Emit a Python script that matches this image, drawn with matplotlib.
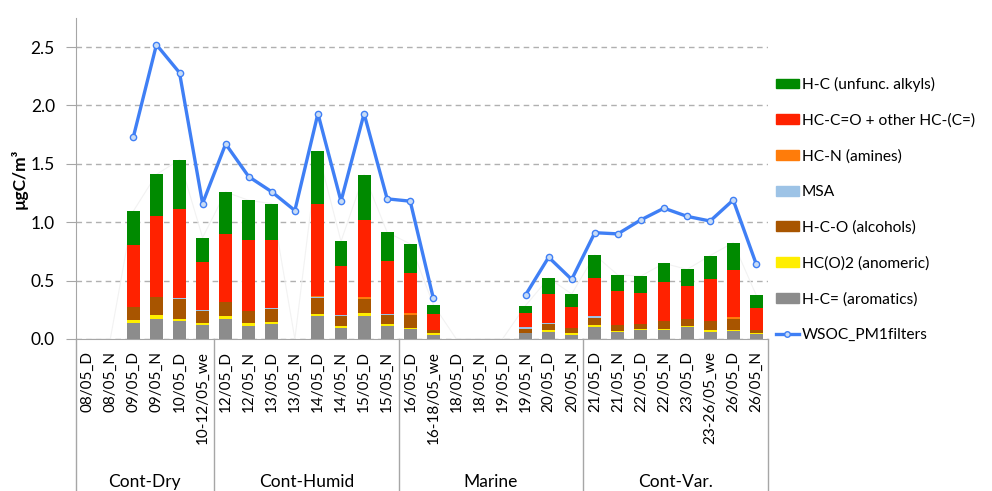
#! /usr/bin/env python3
# -*- coding: utf-8 -*-
"""
Stacked functional groups vs WSOC on PM1 filters.
"""

import matplotlib.pyplot as plt
from matplotlib.patches import Patch
from matplotlib.lines import Line2D
from matplotlib.transforms import blended_transform_factory
import numpy as np

plt.rcParams["font.family"] = ["Lato", "DejaVu Sans"]

samples = [
    "08/05_D", "08/05_N", "09/05_D", "09/05_N", "10/05_D", "10-12/05_we",
    "12/05_D", "12/05_N", "13/05_D", "13/05_N", "14/05_D", "14/05_N", "15/05_D", "15/05_N",
    "16/05_D", "16-18/05_we", "18/05_D", "18/05_N", "19/05_D", "19/05_N", "20/05_D", "20/05_N",
    "21/05_D", "21/05_N", "22/05_D", "22/05_N", "23/05_D", "23-26/05_we", "26/05_D", "26/05_N",
]
groups = ["Cont-Dry", "Cont-Humid", "Marine", "Cont-Var."]
group_sizes = [6, 8, 8, 8]

# stacked components, bottom to top (nan = no sample)
nan = np.nan
aromatics = [nan, nan, 0.14, 0.174, 0.157, 0.123, 0.174, 0.114, 0.131, nan, 0.194, 0.094, 0.197, 0.114,
             0.083, 0.031, nan, nan, nan, 0.051, 0.063, 0.037, 0.103, 0.057, 0.074, 0.077, 0.103, 0.057, 0.066, 0.04]
anomeric = [nan, nan, 0.02, 0.03, 0.017, 0.017, 0.023, 0.02, 0.015, nan, 0.02, 0.017, 0.026, 0.017,
            0.011, 0.018, nan, nan, nan, 0.003, 0.014, 0.014, 0.02, 0.011, 0.012, 0.011, 0.011, 0.02, 0.014, 0.011]
alcohols = [nan, nan, 0.11, 0.155, 0.17, 0.10, 0.117, 0.106, 0.115, nan, 0.14, 0.09, 0.12, 0.075,
            0.115, 0.025, nan, nan, nan, 0.035, 0.055, 0.04, 0.06, 0.052, 0.045, 0.069, 0.054, 0.08, 0.094, 0.026]
msa = [nan, nan, 0.0, 0.0, 0.01, 0.008, 0.0, 0.0, 0.008, nan, 0.004, 0.005, 0.0, 0.008,
       0.0, 0.0, nan, nan, nan, 0.01, 0.005, 0.006, 0.017, 0.0, 0.0, 0.0, 0.0, 0.0, 0.0, 0.0]
amines = [nan, nan, 0.0, 0.0, 0.0, 0.0, 0.0, 0.0, 0.0, nan, 0.01, 0.0, 0.015, 0.0,
          0.01, 0.005, nan, nan, nan, 0.0, 0.0, 0.0, 0.0, 0.0, 0.0, 0.0, 0.0, 0.0, 0.014, 0.0]
carbonyls = [nan, nan, 0.535, 0.69, 0.76, 0.41, 0.585, 0.61, 0.58, nan, 0.79, 0.42, 0.66, 0.45,
             0.345, 0.135, nan, nan, nan, 0.125, 0.245, 0.18, 0.32, 0.294, 0.263, 0.331, 0.283, 0.357, 0.40, 0.191]
alkyls = [nan, nan, 0.29, 0.36, 0.42, 0.21, 0.36, 0.337, 0.31, nan, 0.45, 0.21, 0.39, 0.25,
          0.25, 0.08, nan, nan, nan, 0.062, 0.14, 0.108, 0.20, 0.134, 0.145, 0.16, 0.145, 0.2, 0.237, 0.106]
wsoc = [nan, nan, 1.73, 2.52, 2.28, 1.16, 1.67, 1.39, 1.26, 1.10, 1.93, 1.18, 1.93, 1.20,
        1.18, 0.35, nan, nan, nan, 0.377, 0.70, 0.51, 0.91, 0.90, 1.02, 1.12, 1.05, 1.01, 1.19, 0.64]

series = [
    ("H-C= (aromatics)", aromatics, "#8c8c8c"),
    ("HC(O)2 (anomeric)", anomeric, "#ffee00"),
    ("H-C-O (alcohols)", alcohols, "#a85500"),
    ("MSA", msa, "#9dc3e6"),
    ("HC-N (amines)", amines, "#ff7c0a"),
    ("HC-C=O + other HC-(C=)", carbonyls, "#ff2200"),
    ("H-C (unfunc. alkyls)", alkyls, "#008a00"),
]

fig = plt.figure(figsize=(9.92, 4.91), dpi=100)
ax = fig.add_axes([0.0763, 0.3096, 0.6977, 0.6541])

x = np.arange(len(samples))
bottom = np.zeros(len(samples))
for label, vals, color in series:
    v = np.nan_to_num(np.array(vals, dtype=float))
    ax.bar(x, v, 0.56, bottom=bottom, color=color, zorder=3)
    bottom += v

# faint trace of the totals, as in the original sheet
ax.plot(x, bottom, color="#f2f2f2", lw=0.8, zorder=2)

ax.plot(x, wsoc, color="#3f7ff5", lw=2.4, marker="o", ms=4.5,
        mfc="#c9dcf5", mec="#3f7ff5", mew=1.0, zorder=4)

ax.set_xlim(-0.5, len(samples) - 0.5)
ax.set_ylim(0, 2.75)
ax.set_yticks([0, 0.5, 1.0, 1.5, 2.0, 2.5])
ax.set_yticklabels([f"{t:.1f}" for t in [0, 0.5, 1.0, 1.5, 2.0, 2.5]], fontsize=12.5)
ax.yaxis.grid(True, ls=(0, (4, 3)), color="#b0b0b0", lw=1.0, zorder=0)
ax.tick_params(axis="y", length=7, color="#a6a6a6", pad=8)
ax.set_ylabel("µgC/m³", fontsize=12.5, fontweight="bold", labelpad=2)

for s in ["top", "right"]:
    ax.spines[s].set_visible(False)
for s in ["left", "bottom"]:
    ax.spines[s].set_color("#a6a6a6")

ax.set_xticks(x)
ax.set_xticklabels(samples, rotation=90, fontsize=11, va="top")
ax.tick_params(axis="x", length=0, pad=9)

# group level under the sample labels
trans = blended_transform_factory(ax.transData, ax.transAxes)
edges = np.concatenate([[0], np.cumsum(group_sizes)]) - 0.5
for e in edges:
    ax.plot([e, e], [0, -0.47], transform=trans, color="#a6a6a6", lw=1.0, clip_on=False)
for name, a, b in zip(groups, edges[:-1], edges[1:]):
    ax.text((a + b) / 2, -0.445, name, transform=trans, ha="center", va="center", fontsize=12.5)

handles = [Patch(color=c, label=l) for l, _, c in series[::-1]]
handles.append(Line2D([0], [0], color="#3f7ff5", lw=2.4, marker="o", ms=4,
                      mfc="#c9dcf5", mec="#3f7ff5", label="WSOC_PM1filters"))
fig.legend(handles=handles, loc="upper left", bbox_to_anchor=(0.776, 0.856),
           frameon=False, fontsize=11.2, labelspacing=1.38, handlelength=1.45,
           handleheight=0.6, handletextpad=0.2, borderaxespad=0)

fig.savefig("out.png", dpi=100)
